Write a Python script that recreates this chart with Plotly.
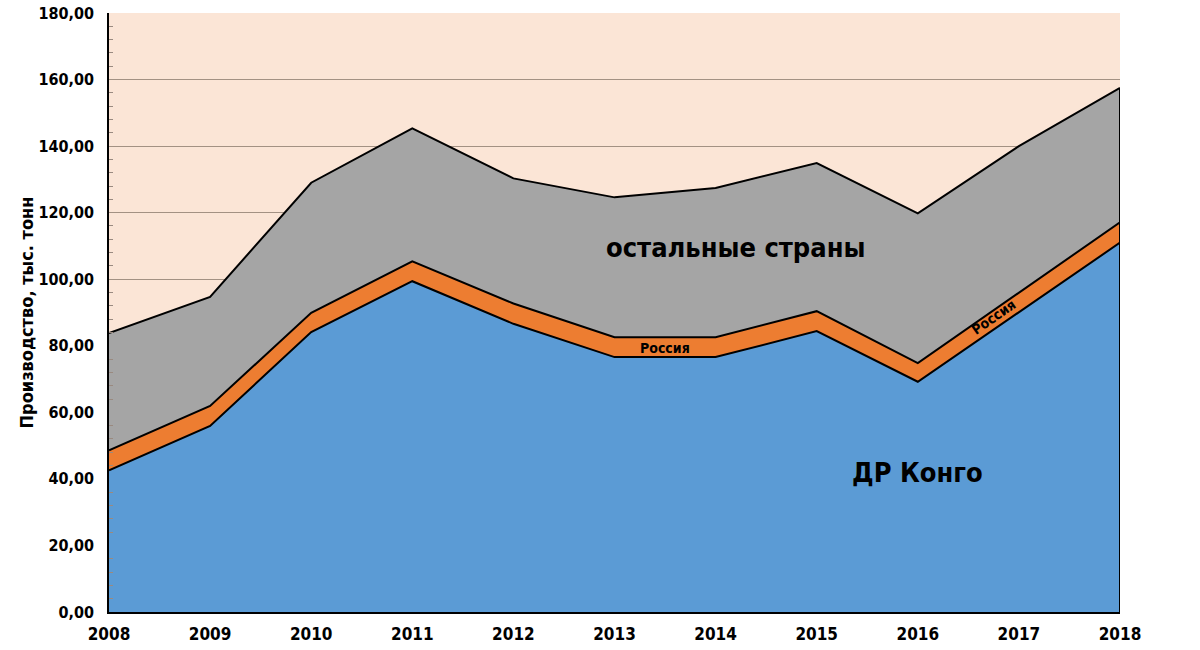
import plotly.graph_objects as go
import numpy as np

years = [2008, 2009, 2010, 2011, 2012, 2013, 2014, 2015, 2016, 2017, 2018]
congo = [42.6, 55.9, 84.1, 99.4, 86.6, 76.6, 76.6, 84.4, 69.2, 90.0, 111.0]
russia = [6.0, 6.0, 5.8, 6.0, 6.1, 6.0, 6.0, 6.0, 5.6, 5.9, 6.1]
others = [35.2, 32.8, 39.1, 39.9, 37.6, 42.0, 44.8, 44.5, 45.0, 44.1, 40.4]

FONT = "DejaVu Sans Condensed, sans-serif"
fig = go.Figure()
line = dict(color="black", width=2)
fig.add_trace(go.Scatter(x=years, y=congo, stackgroup="a", mode="lines", line=line,
                         fillcolor="#5b9bd5", name="ДР Конго"))
fig.add_trace(go.Scatter(x=years, y=russia, stackgroup="a", mode="lines", line=line,
                         fillcolor="#ed7d31", name="Россия"))
fig.add_trace(go.Scatter(x=years, y=others, stackgroup="a", mode="lines", line=line,
                         fillcolor="#a5a5a5", name="остальные страны"))

total = np.array(congo) + np.array(russia) + np.array(others)
fig.add_trace(go.Scatter(x=[years[-1], years[-1]], y=[0, total[-1]], mode="lines",
                         line=dict(color="black", width=2), hoverinfo="skip"))

c = np.array(congo); r = np.array(russia)
def band_mid(xv):
    lo = np.interp(xv, years, c)
    hi = np.interp(xv, years, c + r)
    return (lo + hi) / 2

annots = []
annots.append(dict(x=2013.5, y=band_mid(2013.5) - 0.4, text="Россия", showarrow=False,
                   font=dict(family=FONT, size=14, color="black", weight="bold")))
annots.append(dict(x=2016.75, y=band_mid(2016.75) + 0.8, text="Россия", showarrow=False, textangle=-35,
                   font=dict(family=FONT, size=14, color="black", weight="bold")))
annots.append(dict(x=2014.2, y=109.5, text="остальные страны", showarrow=False,
                   font=dict(family=FONT, size=27, color="black", weight="bold")))
annots.append(dict(x=2016.0, y=42, text="ДР Конго", showarrow=False,
                   font=dict(family=FONT, size=27, color="black", weight="bold")))

fig.update_layout(
    width=1200, height=650,
    margin=dict(l=109, r=80, t=13, b=38, autoexpand=False),
    paper_bgcolor="white", plot_bgcolor="#fbe5d6",
    showlegend=False,
    separators=", ",
    font=dict(family=FONT, size=17, color="black", weight="bold"),
    annotations=annots,
)
fig.update_xaxes(range=[2008, 2018], dtick=1, tick0=2008, showgrid=False, zeroline=False,
                 showline=True, linecolor="black", linewidth=1.5, ticks="", automargin=False,
                 ticklabelstandoff=6,
                 tickfont=dict(family=FONT, size=17, color="black", weight="bold"))
fig.update_yaxes(range=[0, 180], dtick=20, tickformat=".2f", showgrid=True,
                 gridcolor="#a39183", gridwidth=1, zeroline=False, automargin=False,
                 showline=True, linecolor="black", linewidth=1.5, ticks="",
                 ticklabelstandoff=10,
                 minor=dict(dtick=4, ticks="inside", ticklen=4, tickcolor="#9a8a80", showgrid=False),
                 tickfont=dict(family=FONT, size=16, color="black", weight="bold"),
                 title=dict(text="Производство, тыс. тонн", standoff=0,
                            font=dict(family=FONT, size=18, color="black", weight="bold")))

fig.write_html("out.html", config={"displayModeBar": False},
               post_script="document.body.style.margin='0';")
